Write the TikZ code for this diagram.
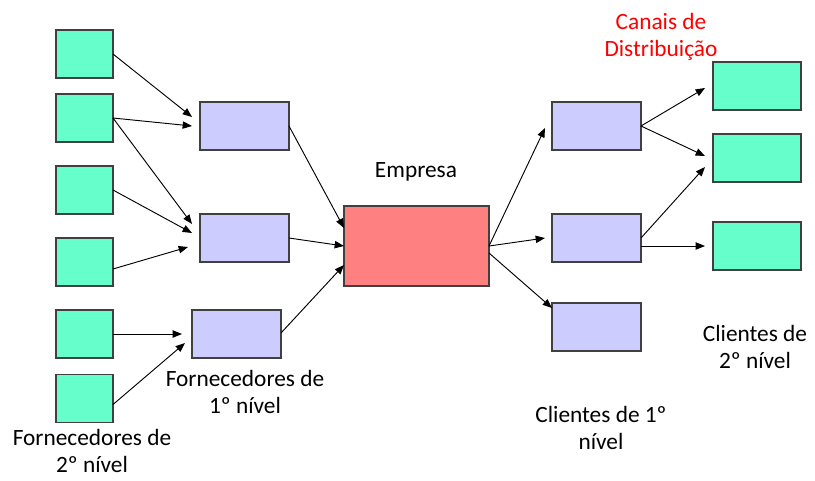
\documentclass[tikz,border=0pt]{standalone}
\usepackage{fontspec}
\setmainfont{Carlito}
\usepackage{tikz}
\usetikzlibrary{arrows.meta,calc}
\definecolor{forn2}{RGB}{102,255,204}
\definecolor{forn1}{RGB}{204,204,255}
\definecolor{empresa}{RGB}{255,128,128}
\definecolor{borda}{RGB}{64,64,64}

\tikzset{
  caixa/.style={rectangle, draw=borda, line width=0.8pt, inner sep=0pt, outer sep=0pt},
  verde/.style={caixa, fill=forn2, minimum width=42.75pt, minimum height=36pt},
  verdeg/.style={caixa, fill=forn2, minimum width=66pt, minimum height=36pt},
  azul/.style={caixa, fill=forn1, minimum width=66.75pt, minimum height=36pt},
  seta/.style={-{Triangle[length=7pt,width=5.5pt]}, line width=0.7pt},
  rotulo/.style={align=center, font=\fontsize{17.5}{20.5}\selectfont}
}

\begin{document}
\begin{tikzpicture}[x=0.75pt, y=-0.75pt]
\useasboundingbox (0,0) rectangle (815,480);

% fornecedores de 2o nivel
\node (g1) [verde] at (84.5,54) {};
\node (g2) [verde] at (84.5,118) {};
\node (g3) [verde] at (84.5,190) {};
\node (g4) [verde] at (84.5,262) {};
\node (g5) [verde] at (84.5,334) {};
\node (g6) [verde] at (84.5,398.5) {};

% fornecedores de 1o nivel
\node (b1) [azul] at (244.5,126) {};
\node (b2) [azul] at (244.5,238) {};
\node (b3) [azul] at (236.5,334) {};

% empresa
\node (emp) [caixa, fill=empresa, minimum width=108.75pt, minimum height=60pt] at (416.5,246) {};

% clientes de 1o nivel
\node (c1) [azul] at (596.5,126) {};
\node (c2) [azul] at (596.5,238) {};
\node (c3) [azul] at (596.5,327) {};

% clientes de 2o nivel
\node (d1) [verdeg] at (757,86) {};
\node (d2) [verdeg] at (757,158) {};
\node (d3) [verdeg] at (757,246) {};

% textos
\node (tEmp) [rotulo] at (416,172) {Empresa};
\node (tCanais) [rotulo, text=red] at (661,37) {Canais de\\Distribuição};
\node (tForn2) [rotulo] at (92,451) {Fornecedores de\\2º nível};
\node (tForn1) [rotulo] at (245,392) {Fornecedores de\\1º nível};
\node (tCli1) [rotulo] at (601,428) {Clientes de 1º\\nível};
\node (tCli2) [rotulo] at (755,347) {Clientes de\\2º nível};

% ligacoes
\draw [seta] (g1.east) -- ($(b1.west)+(-8,-9)$);
\draw [seta] (g2.east) -- ($(b1.west)+(-8,0)$);
\draw [seta] (g2.east) -- ($(b2.west)+(-8,-14)$);
\draw [seta] (g3.east) -- ($(b2.west)+(-8,-5)$);
\draw [seta] ($(g4.east)+(0,7)$) -- ($(b2.west)+(-12,9)$);
\draw [seta] (g5.east) -- ($(b3.west)+(-10,0)$);
\draw [seta] ($(g6.east)+(0,6)$) -- ($(b3.west)+(-7,9)$);

\draw [seta] (b1.east) -- ($(emp.west)+(0,-18)$);
\draw [seta] (b2.east) -- (emp.west);
\draw [seta] ($(b3.east)+(0,-1)$) -- ($(emp.west)+(0,19)$);

\draw [seta] (emp.east) -- ($(c1.west)+(-7,2)$);
\draw [seta] (emp.east) -- ($(c2.west)+(-7,0)$);
\draw [seta] ($(emp.east)+(0,7)$) -- ($(c3.north west)+(0,5)$);

\draw [seta] (c1.east) -- ($(d1.west)+(-8,2)$);
\draw [seta] (c1.east) -- ($(d2.west)+(-8,-2)$);
\draw [seta] (c2.east) -- ($(d2.west)+(-8,9)$);
\draw [seta] ($(c2.east)+(0,8)$) -- ($(d3.west)+(-8,0)$);
\end{tikzpicture}
\end{document}
